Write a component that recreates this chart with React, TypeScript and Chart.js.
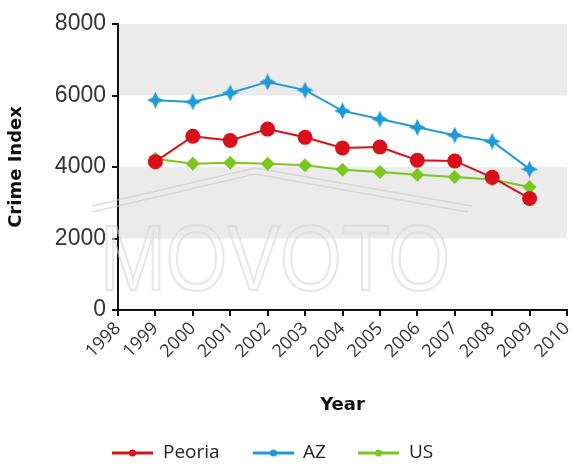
import React, { useEffect, useRef } from "react";
import { Chart, registerables } from "chart.js";

Chart.register(...registerables);

const years = [1999, 2000, 2001, 2002, 2003, 2004, 2005, 2006, 2007, 2008, 2009];
const peoria = [4150, 4860, 4740, 5060, 4830, 4530, 4560, 4190, 4170, 3710, 3120];
const az = [5870, 5820, 6070, 6380, 6150, 5570, 5340, 5110, 4890, 4720, 3940];
const us = [4230, 4090, 4120, 4090, 4050, 3920, 3860, 3780, 3720, 3650, 3440];
const seriesNames = ["Peoria", "AZ", "US"];
const seriesColors = ["#d9101a", "#1f9ad8", "#7cc71e"];
const yTicks = [0, 2000, 4000, 6000, 8000];
const bands = [
  [2000, 4000],
  [6000, 8000],
];
const watermark = "MOVOTO";

function starCanvas(color: string, size: number) {
  const c = document.createElement("canvas");
  c.width = size;
  c.height = size;
  const ctx = c.getContext("2d")!;
  const r = size / 2;
  const inner = r * 0.45;
  ctx.fillStyle = color;
  ctx.beginPath();
  for (let i = 0; i < 8; i++) {
    const a = (Math.PI / 4) * i - Math.PI / 2;
    const rr = i % 2 === 0 ? r : inner;
    const x = r + rr * Math.cos(a);
    const y = r + rr * Math.sin(a);
    if (i === 0) ctx.moveTo(x, y);
    else ctx.lineTo(x, y);
  }
  ctx.closePath();
  ctx.fill();
  return c;
}

const bandsPlugin = {
  id: "bands",
  beforeDatasetsDraw(chart: any) {
    const { ctx, chartArea, scales } = chart;
    const y = scales.y;
    ctx.save();
    ctx.fillStyle = "#ebebeb";
    bands.forEach(([a, b]) => {
      const y1 = y.getPixelForValue(b);
      const y2 = y.getPixelForValue(a);
      ctx.fillRect(chartArea.left + 1, y1, chartArea.right - chartArea.left - 1, y2 - y1);
    });
    // watermark
    ctx.strokeStyle = "rgba(215,215,215,0.6)";
    ctx.lineWidth = 2;
    ctx.font = "80px 'Liberation Sans', Arial, sans-serif";
    const w = ctx.measureText(watermark).width;
    const x0 = chartArea.left - 18;
    ctx.save();
    ctx.translate(x0, 290);
    ctx.scale(350 / w, 1.15);
    ctx.strokeText(watermark, 0, 0);
    ctx.restore();
    ctx.strokeStyle = "rgba(200,200,200,0.6)";
    ctx.lineWidth = 1.5;
    ctx.beginPath();
    ctx.moveTo(92, 206);
    ctx.lineTo(255, 168);
    ctx.lineTo(472, 206);
    ctx.moveTo(92, 212);
    ctx.lineTo(255, 174);
    ctx.lineTo(468, 212);
    ctx.stroke();
    ctx.restore();
  },
};

const legendPlugin = {
  id: "customLegend",
  afterDraw(chart: any) {
    const { ctx } = chart;
    const yc = 453;
    const items = [
      { lx: 112, tx: 163 },
      { lx: 253, tx: 303 },
      { lx: 358, tx: 409 },
    ];
    ctx.save();
    ctx.font = "19px 'Open Sans', sans-serif";
    ctx.textBaseline = "middle";
    chart.data.datasets.forEach((ds: any, i: number) => {
      const it = items[i];
      ctx.strokeStyle = ds.borderColor;
      ctx.lineWidth = 3;
      ctx.beginPath();
      ctx.moveTo(it.lx, yc);
      ctx.lineTo(it.lx + 41, yc);
      ctx.stroke();
      ctx.fillStyle = ds.borderColor;
      ctx.beginPath();
      ctx.arc(it.lx + 20.5, yc, 3.5, 0, Math.PI * 2);
      ctx.fill();
      ctx.fillStyle = "#222";
      ctx.fillText(ds.label, it.tx, yc);
    });
    ctx.restore();
  },
};

export default function App() {
  const ref = useRef<HTMLCanvasElement>(null);
  useEffect(() => {
    document.body.style.margin = "0";
    const starImg = starCanvas(seriesColors[1], 17);
    const chart = new Chart(ref.current!, {
      type: "line",
      data: {
        datasets: [
          {
            label: seriesNames[0],
            data: years.map((x, i) => ({ x, y: peoria[i] })),
            borderColor: seriesColors[0],
            backgroundColor: seriesColors[0],
            borderWidth: 2,
            pointRadius: 7.5,
            pointStyle: "circle",
            pointBorderWidth: 0,
          },
          {
            label: seriesNames[1],
            data: years.map((x, i) => ({ x, y: az[i] })),
            borderColor: seriesColors[1],
            backgroundColor: seriesColors[1],
            borderWidth: 2,
            pointStyle: starImg as any,
            pointRadius: 8,
          },
          {
            label: seriesNames[2],
            data: years.map((x, i) => ({ x, y: us[i] })),
            borderColor: seriesColors[2],
            backgroundColor: seriesColors[2],
            borderWidth: 2,
            pointStyle: "rectRot",
            pointRadius: 7,
            pointBorderWidth: 0,
          },
        ],
      },
      options: {
        animation: false,
        responsive: false,
        layout: { autoPadding: false, padding: { left: 0, top: 24, right: 6, bottom: 50 } },
        plugins: { legend: { display: false }, tooltip: { enabled: false } },
        scales: {
          x: {
            type: "linear",
            min: 1998,
            max: 2010,
            afterFit: (s: any) => {
              s.height = 108;
              s.paddingRight = 0;
              s.paddingLeft = 0;
            },
            ticks: {
              stepSize: 1,
              autoSkip: false,
              maxRotation: 45,
              minRotation: 45,
              padding: 2,
              color: "#333",
              font: { family: "'Open Sans', sans-serif", size: 18 },
              callback: (v: any) => String(v),
            },
            grid: {
              display: true,
              drawOnChartArea: false,
              drawTicks: true,
              tickLength: 6,
              color: "#111",
              lineWidth: 2,
            },
            border: { display: true, color: "#111", width: 2 },
            title: {
              display: true,
              text: "Year",
              color: "#111",
              font: { family: "'DejaVu Sans', sans-serif", size: 18, weight: "bold" },
              padding: { top: 0, bottom: 2 },
            },
          },
          y: {
            min: 0,
            max: 8000,
            afterFit: (s: any) => {
              s.width = 118;
            },
            afterBuildTicks: (s: any) => {
              s.ticks = yTicks.map((v) => ({ value: v }));
            },
            ticks: {
              padding: 6,
              color: "#333",
              font: { family: "'Liberation Sans', Arial, sans-serif", size: 23 },
              callback: (v: any) => String(v),
            },
            grid: {
              display: true,
              drawOnChartArea: false,
              drawTicks: true,
              tickLength: 6,
              color: "#111",
              lineWidth: 2,
            },
            border: { display: true, color: "#111", width: 2 },
            title: {
              display: true,
              text: "Crime Index",
              color: "#111",
              font: { family: "'DejaVu Sans', sans-serif", size: 18, weight: "bold" },
              padding: { top: 6, bottom: 0 },
            },
          },
        },
      },
      plugins: [bandsPlugin, legendPlugin],
    });
    return () => chart.destroy();
  }, []);
  return <canvas ref={ref} width={573} height={468} style={{ display: "block" }} />;
}
